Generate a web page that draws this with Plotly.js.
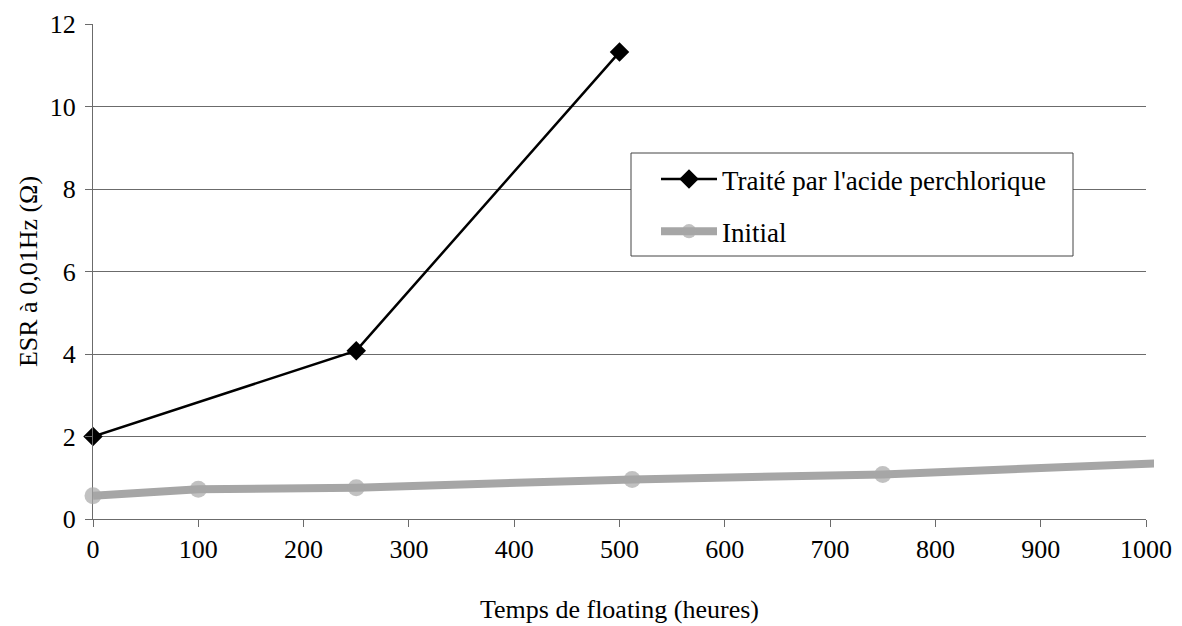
<!DOCTYPE html>
<html>
<head>
<meta charset="utf-8">
<script src="https://cdn.plot.ly/plotly-3.0.1.min.js"></script>
<style>html,body{margin:0;padding:0;background:#fff;}#chart{width:1182px;height:626px;}</style>
</head>
<body>
<div id="chart"></div>
<script>
// Data
const treatedName = "Traité par l'acide perchlorique";
const treatedHours = [0, 250, 500];
const treatedESR = [2.0, 4.08, 11.32];

const initialName = "Initial";
const initialHours = [0, 100, 250, 512, 750, 1008];
const initialESR = [0.565, 0.72, 0.76, 0.96, 1.08, 1.345];

const xTicks = [0, 100, 200, 300, 400, 500, 600, 700, 800, 900, 1000];
const yTicks = [0, 2, 4, 6, 8, 10, 12];

const xTitle = "Temps de floating (heures)";
const yTitle = "ESR à 0,01Hz (Ω)";

// geometry
const W = 1182, H = 626;
const mL = 93, mR = 28, mT = 24, mB = 107;
const plotW = W - mL - mR;
const plotH = H - mT - mB;
const axisEndPx = 1146 - mL;
const mainFrac = axisEndPx / plotW;
const xMax = 1000;
const px2x = p => (p - mL) / plotW;
const px2y = p => (H - mB - p) / plotH;

const font = "Liberation Serif";
const fs = 26;
const gridCol = "#6b6b6b";

const traces = [
  {
    x: treatedHours, y: treatedESR, name: treatedName,
    type: "scatter", mode: "lines+markers",
    xaxis: "x", yaxis: "y",
    cliponaxis: false,
    line: {color: "#000000", width: 2.5},
    marker: {symbol: "diamond", size: 15, color: "#000000"},
    legendgroup: "a"
  },
  {
    x: initialHours, y: initialESR, name: initialName,
    type: "scatter", mode: "lines+markers",
    xaxis: "x2", yaxis: "y2",
    cliponaxis: false,
    line: {color: "#a6a6a6", width: 8},
    marker: {symbol: "circle", size: initialHours.map(h => h > xMax ? 0 : 17), color: "#a6a6a6", line: {width: 0}},
    legendgroup: "b"
  }
];

const layout = {
  width: W, height: H,
  margin: {l: mL, r: mR, t: mT, b: mB},
  paper_bgcolor: "#ffffff",
  plot_bgcolor: "rgba(0,0,0,0)",
  font: {family: font, size: fs, color: "#000"},
  showlegend: true,
  xaxis: {
    domain: [0, mainFrac],
    range: [0, xMax],
    tickvals: xTicks, ticktext: xTicks.map(String),
    showgrid: false, zeroline: false,
    showline: true, linecolor: gridCol, linewidth: 1,
    ticks: "outside", ticklen: 7, tickcolor: gridCol,
    tickfont: {family: font, size: fs, color: "#000"},
    title: {text: xTitle, font: {family: font, size: fs, color: "#000"}, standoff: 36},
    automargin: false,
    anchor: "y", fixedrange: true
  },
  yaxis: {
    domain: [0, 1],
    range: [0, 12],
    tickvals: yTicks, ticktext: yTicks.map(String),
    showgrid: true, gridcolor: gridCol, gridwidth: 1,
    zeroline: false,
    showline: true, linecolor: gridCol, linewidth: 1,
    ticks: "outside", ticklen: 7, tickcolor: gridCol,
    ticklabelstandoff: 4,
    tickfont: {family: font, size: fs, color: "#000"},
    title: {text: yTitle, font: {family: font, size: fs, color: "#000"}, standoff: 4},
    automargin: false,
    anchor: "x", fixedrange: true
  },
  xaxis2: {
    domain: [0, 1],
    range: [0, xMax / mainFrac],
    visible: false, showgrid: false, zeroline: false,
    anchor: "y2", fixedrange: true
  },
  yaxis2: {
    domain: [0, 1],
    range: [0, 12],
    visible: false, showgrid: false, zeroline: false,
    anchor: "x2", fixedrange: true
  },
  shapes: [{
    type: "rect", xref: "paper", yref: "paper", layer: "above",
    x0: px2x(631), x1: px2x(1073), y0: px2y(256), y1: px2y(153),
    fillcolor: "#ffffff", line: {color: "#444444", width: 1}
  }],
  legend: {
    x: px2x(656), y: px2y(155),
    xanchor: "left", yanchor: "top",
    bgcolor: "rgba(0,0,0,0)",
    borderwidth: 0,
    font: {family: font, size: 27, color: "#000"},
    itemwidth: 56,
    traceorder: "grouped",
    tracegroupgap: 14
  }
};

Plotly.newPlot("chart", traces, layout, {displayModeBar: false, staticPlot: true});
</script>
</body>
</html>
